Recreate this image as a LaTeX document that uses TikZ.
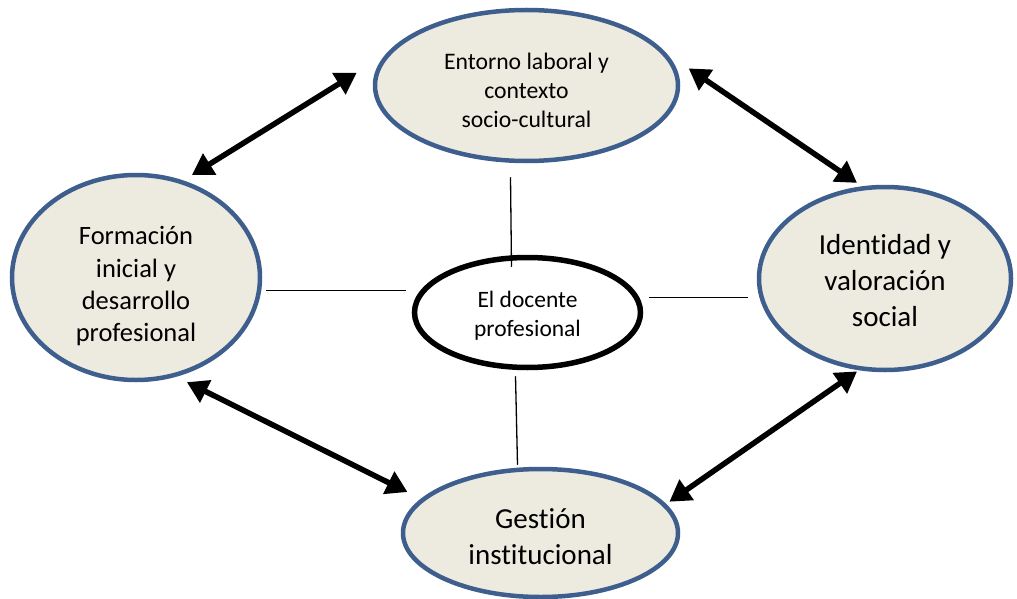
\documentclass[tikz,border=0pt]{standalone}
\usepackage{fontspec}
\setmainfont{Carlito}[Ligatures={TeX,NoCommon}]
\usetikzlibrary{shapes.geometric,arrows.meta}
\definecolor{rim}{RGB}{62,95,142}
\definecolor{cream}{RGB}{237,235,224}
\newcommand\fs[2]{\fontsize{#1}{#2}\selectfont}
\newcommand\stack[2]{\raisebox{-#1}[0pt][0pt]{\begin{tabular}{@{}c@{}}#2\end{tabular}}}

\begin{document}
\begin{tikzpicture}[x=1pt,y=-1pt,
  bubble/.style={ellipse,draw=rim,line width=4.5pt,fill=cream,inner sep=0pt},
  link/.style={line width=1.3pt},
  both/.style={line width=5.5pt,{Triangle[length=21pt,width=24pt]}-{Triangle[length=21pt,width=24pt]}}]
\useasboundingbox (0,0) rectangle (1017,599);
% the five ellipses
\node[bubble,minimum width=303pt,minimum height=151pt,font=\fs{23.7}{29}] (entorno) at (526.5,85.5) {\stack{13.5pt}{Entorno laboral y\\contexto\\socio-cultural}};
\node[bubble,minimum width=248pt,minimum height=205pt,font=\fs{26.5}{32.3}] (formacion) at (136,277.5) {\stack{15.6pt}{Formación\\inicial y\\desarrollo\\profesional}};
\node[bubble,minimum width=252pt,minimum height=183pt,font=\fs{29}{36}] (identidad) at (885,278.5) {\stack{11.3pt}{Identidad y\\valoración\\social}};
\node[bubble,minimum width=275pt,minimum height=128pt,font=\fs{29}{36}] (gestion) at (540.5,533) {\stack{13pt}{Gestión\\institucional}};
\node[ellipse,draw,line width=5.5pt,fill=white,inner sep=0pt,minimum width=226pt,minimum height=110pt,font=\fs{23.5}{29}] (docente) at (527.5,312.5) {\stack{10pt}{El docente\\profesional}};
% thin links to the centre
\draw[link] ([xshift=-16pt,yshift=-14pt]entorno.south) -- ([xshift=-16pt,yshift=-12pt]docente.north);
\draw[link] ([xshift=4pt,yshift=-13pt]formacion.east) -- ([xshift=-6pt,yshift=22pt]docente.west);
\draw[link] ([xshift=6pt,yshift=15pt]docente.east) -- ([xshift=-9pt,yshift=-19pt]identidad.west);
\draw[link] ([xshift=-12pt,yshift=-6pt]docente.south) -- ([xshift=-23pt,yshift=2pt]gestion.north);
% double arrows round the outside
\draw[both,shorten <=10pt,shorten >=33pt] (formacion.64) -- (entorno.168);
\draw[both,shorten <=27pt,shorten >=6pt] (entorno.13.5) -- (identidad.104);
\draw[both,shorten <=2pt,shorten >=4pt] (identidad.254) -- (gestion.13.5);
\draw[both,shorten <=12pt,shorten >=15pt] (formacion.292) -- (gestion.164);
\end{tikzpicture}
\end{document}
